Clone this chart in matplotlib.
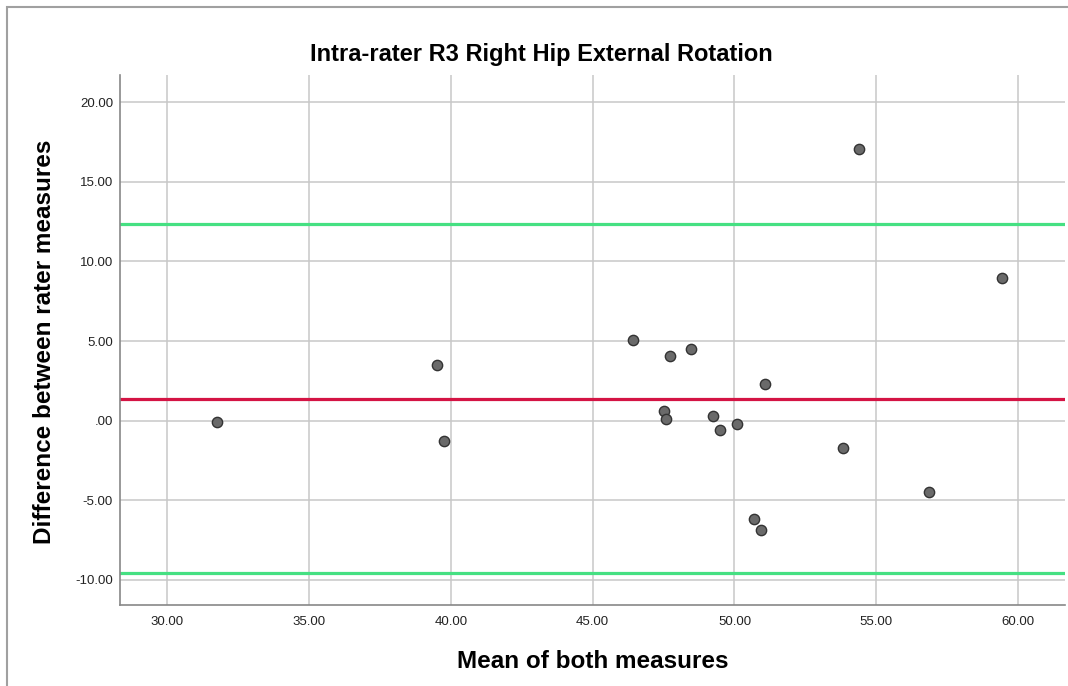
import numpy as np
import matplotlib.pyplot as plt
from matplotlib.ticker import FuncFormatter
from matplotlib.patches import Rectangle

plt.rcParams['font.family'] = ['Liberation Sans', 'DejaVu Sans']

# Bland-Altman data: mean of both measures vs difference
mean_vals = [31.76, 39.52, 39.77, 46.44, 47.50, 47.57, 47.71, 48.45, 49.26,
             49.50, 50.10, 51.06, 50.70, 50.95, 53.84, 54.40, 56.84, 59.42]
diff_vals = [-0.06, 3.52, -1.26, 5.09, 0.63, 0.13, 4.03, 4.53, 0.31,
             -0.57, -0.19, 2.33, -6.16, -6.86, -1.70, 17.04, -4.47, 8.93]
bias = 1.38
upper_loa = 12.33
lower_loa = -9.56

x_ticks = [30, 35, 40, 45, 50, 55, 60]
y_ticks = [-10, -5, 0, 5, 10, 15, 20]

fig = plt.figure(figsize=(10.68, 6.86), dpi=100)
ax = fig.add_axes([120/1068, 1-605/686, 945/1068, 530/686])

# outer frame (left + top only visible)
fig.patches.append(Rectangle((7/1068, -0.1), 1.2, 1-7/686+0.1, transform=fig.transFigure,
                             fill=False, edgecolor='#a0a0a0', linewidth=1.5))

ax.set_xlim(28.34, 61.65)
ax.set_ylim(-11.57, 21.7)
ax.set_xticks(x_ticks)
ax.set_yticks(y_ticks)

def fmt(v, pos):
    s = '%.2f' % v
    if s == '0.00':
        return '.00'
    return s

ax.xaxis.set_major_formatter(FuncFormatter(fmt))
ax.yaxis.set_major_formatter(FuncFormatter(fmt))
ax.tick_params(axis='y', length=0, labelsize=9.5, colors='#222222', pad=5)
ax.tick_params(axis='x', length=0, labelsize=9.5, colors='#222222', pad=8)

ax.grid(True, color='#c8c8c8', linewidth=1.1)
ax.set_axisbelow(True)
for side in ['top', 'right']:
    ax.spines[side].set_visible(False)
for side in ['left', 'bottom']:
    ax.spines[side].set_color('#888888')
    ax.spines[side].set_linewidth(1.2)

ax.axhline(upper_loa, color='#45e082', linewidth=2.3, zorder=2)
ax.axhline(lower_loa, color='#45e082', linewidth=2.3, zorder=2)
ax.axhline(bias, color='#d41444', linewidth=2.3, zorder=2)

ax.scatter(mean_vals, diff_vals, s=55, color='#6a6a6a', edgecolor='#333333',
           linewidth=1.0, zorder=3)

fig.text(541/1068, 1-55/686, 'Intra-rater R3 Right Hip External Rotation',
         fontsize=17, fontweight='bold', ha='center', va='center')
fig.text(593/1068, 1-661/686, 'Mean of both measures',
         fontsize=17.5, fontweight='bold', ha='center', va='center')
fig.text(45/1068, 1-342/686, 'Difference between rater measures',
         fontsize=17.5, fontweight='bold', ha='center', va='center', rotation=90)

fig.savefig('out.png', dpi=100)
